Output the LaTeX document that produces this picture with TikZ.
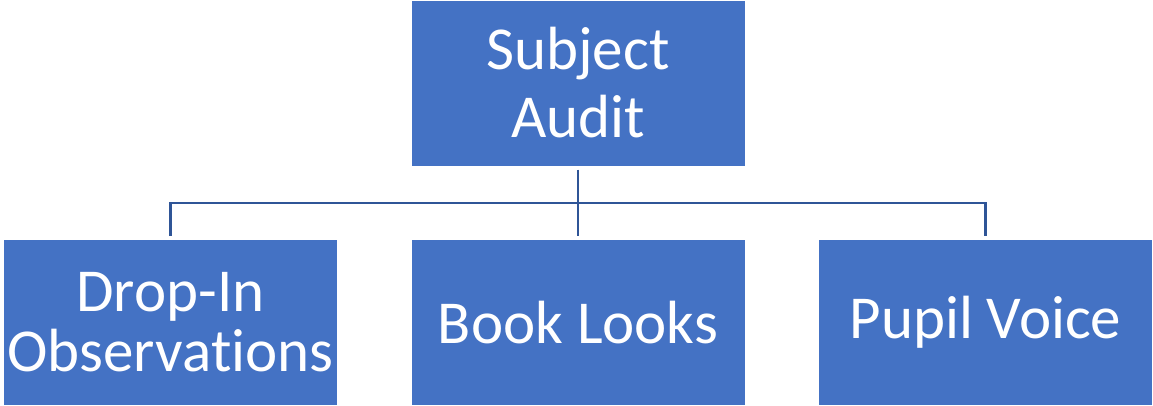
\documentclass[tikz,border=0pt]{standalone}
\usepackage{fontspec}
\setmainfont{Carlito}[Ligatures=CommonOff]
\definecolor{boxblue}{HTML}{4472C4}
\definecolor{linkblue}{HTML}{2F5597}
\begin{document}
\begin{tikzpicture}[x=1pt,y=-1pt,
  box/.style={rectangle, fill=boxblue, draw=white, line width=1pt, minimum width=334pt, minimum height=166pt, inner sep=0pt, text=white, align=center},
  big/.style={font=\fontsize{61}{68}\selectfont},
  tight/.style={font=\fontsize{61}{60}\selectfont},
  conn/.style={draw=linkblue, line width=2.6pt}]
\useasboundingbox (0,0) rectangle (1153,405);
\node[box, big] (top) at (578,83) {Subject\\Audit};
\node[box, tight] (b1) at (170.5,322.5) {Drop-In\\Observations};
\node[box, big] (b2) at (578,322.5) {Book Looks};
\node[box, big] (b3) at (985.5,322.5) {Pupil Voice};
\coordinate (j) at (578,203);
\draw[conn] ([yshift=-3pt]top.south) -- ([yshift=3pt]b2.north);
\draw[conn] ([yshift=3pt]b1.north) |- (j) -| ([yshift=3pt]b3.north);
\end{tikzpicture}
\end{document}
